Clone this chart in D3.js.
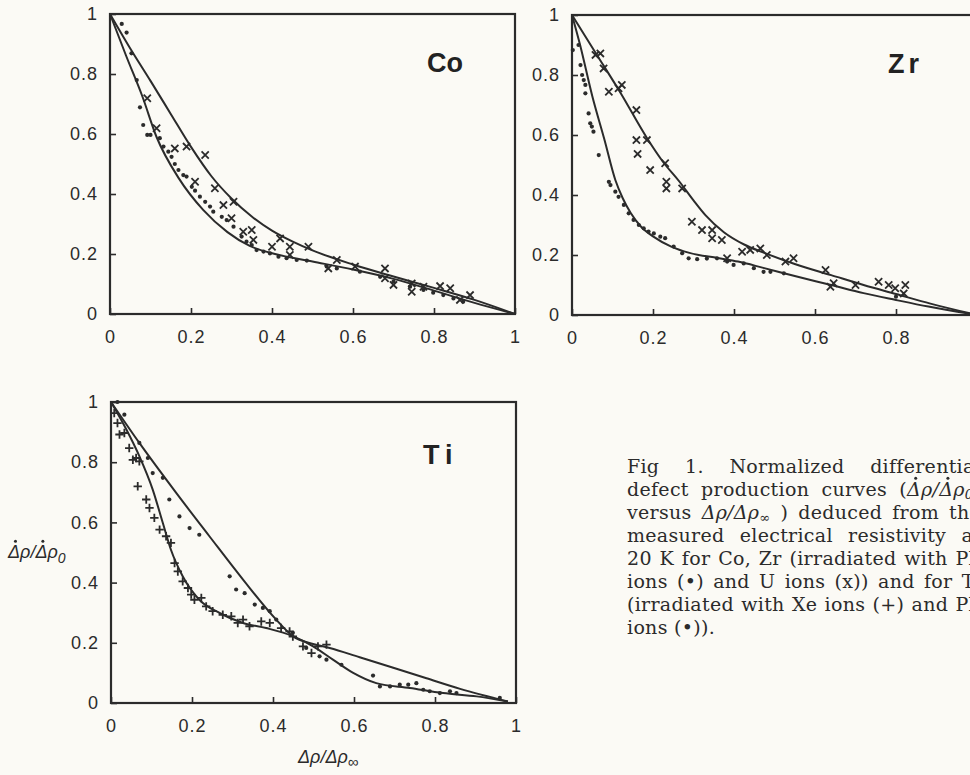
<!DOCTYPE html>
<html>
<head>
<meta charset="UTF-8">
<title>Normalized differential defect production curves</title>
<script src="https://cdn.jsdelivr.net/npm/d3@7"></script>
<style>
	body { margin: 0; background: #fbfaf5; overflow: hidden; }
	svg { display: block; }
	.tick text {
		font-family: "Liberation Sans", Arial, sans-serif;
		font-size: 18px;
		letter-spacing: 1px;
		fill: #2b2b2b;
	}
	.tick line { stroke: #2b2b2b; stroke-width: 1.6; }
	.frame { fill: none; stroke: #2b2b2b; stroke-width: 2.2; }
	.curve { fill: none; stroke: #2b2b2b; stroke-width: 2; }
	.dot { fill: #2b2b2b; }
	.mark { fill: none; stroke: #2b2b2b; stroke-width: 1.8; }
	.ptitle {
		font-family: "Liberation Sans", Arial, sans-serif;
		font-weight: bold;
		font-size: 27px;
		fill: #222;
	}
	.alabel {
		font-family: "Liberation Sans", Arial, sans-serif;
		font-style: italic;
		font-size: 18px;
		fill: #2b2b2b;
	}
	.caption {
		font-family: "DejaVu Serif", serif;
		font-size: 19px;
		letter-spacing: 0.3px;
		fill: #2b2b2b;
	}
</style>
</head>
<body>
<svg id="chart" width="970" height="775"></svg>
<script>

	// axis ticks
	let tickValues = [0, 0.2, 0.4, 0.6, 0.8, 1];
	let tickLabels = ["0", "0.2", "0.4", "0.6", "0.8", "1"];

	// Co : fitted curves, Pb ions (dots), U ions (x)
	let coUpper = [[0,1],[0.05,0.885],[0.1,0.777],[0.15,0.667],[0.2,0.557],[0.25,0.46],[0.3,0.385],[0.35,0.325],[0.4,0.278],[0.45,0.242],[0.5,0.212],[0.6,0.165],[0.7,0.125],[0.8,0.087],[0.9,0.047],[1,0]];
	let coLower = [[0,1],[0.04,0.86],[0.08,0.725],[0.115,0.59],[0.17,0.452],[0.23,0.347],[0.29,0.273],[0.345,0.227],[0.41,0.199],[0.5,0.175],[0.6,0.148],[0.7,0.117],[0.8,0.078],[0.9,0.037],[1,0]];
	let coDots = [[0.029,0.967],[0.041,0.938],[0.053,0.869],[0.066,0.78],[0.074,0.689],[0.082,0.63],[0.092,0.597],[0.1,0.597],[0.123,0.586],[0.132,0.558],[0.144,0.541],[0.152,0.524],[0.16,0.5],[0.169,0.48],[0.181,0.463],[0.189,0.458],[0.202,0.424],[0.21,0.411],[0.222,0.391],[0.235,0.374],[0.247,0.358],[0.255,0.341],[0.276,0.324],[0.288,0.313],[0.305,0.291],[0.325,0.258],[0.337,0.241],[0.35,0.23],[0.362,0.213],[0.379,0.208],[0.395,0.202],[0.416,0.191],[0.436,0.186],[0.461,0.18],[0.486,0.178],[0.535,0.158],[0.56,0.152],[0.617,0.141],[0.667,0.124],[0.7,0.108],[0.741,0.091],[0.774,0.08],[0.798,0.071],[0.823,0.063],[0.848,0.052],[0.872,0.041]];
	let coCross = [[0.092,0.719],[0.115,0.619],[0.16,0.552],[0.189,0.558],[0.235,0.53],[0.21,0.441],[0.259,0.419],[0.28,0.363],[0.305,0.374],[0.3,0.319],[0.329,0.274],[0.35,0.28],[0.354,0.247],[0.42,0.252],[0.444,0.224],[0.444,0.197],[0.4,0.224],[0.49,0.224],[0.539,0.152],[0.56,0.18],[0.605,0.158],[0.679,0.152],[0.679,0.119],[0.7,0.097],[0.745,0.102],[0.745,0.074],[0.774,0.091],[0.815,0.093],[0.84,0.086],[0.864,0.047],[0.889,0.063]];

	// Zr : fitted curves, Pb ions (dots), U ions (x)
	let zrUpper = [[0,1],[0.06,0.87],[0.12,0.74],[0.185,0.59],[0.225,0.51],[0.265,0.445],[0.3,0.382],[0.33,0.332],[0.375,0.276],[0.425,0.235],[0.475,0.207],[0.55,0.17],[0.64,0.133],[0.72,0.1],[0.8,0.07],[0.885,0.038],[1,0]];
	let zrLower = [[0,1],[0.02,0.9],[0.05,0.73],[0.08,0.585],[0.107,0.45],[0.125,0.39],[0.145,0.34],[0.17,0.295],[0.2,0.262],[0.245,0.228],[0.29,0.207],[0.36,0.19],[0.41,0.178],[0.47,0.158],[0.55,0.13],[0.64,0.1],[0.72,0.073],[0.8,0.05],[0.88,0.028],[1,0]];
	let zrDots = [[0.002,0.883],[0.016,0.9],[0.021,0.833],[0.025,0.8],[0.029,0.783],[0.033,0.767],[0.033,0.739],[0.041,0.672],[0.045,0.639],[0.049,0.628],[0.053,0.611],[0.066,0.533],[0.091,0.444],[0.095,0.433],[0.107,0.411],[0.115,0.394],[0.128,0.367],[0.14,0.339],[0.152,0.317],[0.165,0.3],[0.177,0.289],[0.189,0.278],[0.202,0.272],[0.218,0.261],[0.23,0.256],[0.251,0.228],[0.272,0.206],[0.288,0.189],[0.309,0.186],[0.333,0.188],[0.358,0.189],[0.383,0.178],[0.399,0.167],[0.424,0.172],[0.449,0.156],[0.473,0.144],[0.49,0.144],[0.523,0.139],[0.8,0.061]];
	let zrCross = [[0.058,0.867],[0.07,0.872],[0.078,0.822],[0.091,0.744],[0.115,0.756],[0.123,0.767],[0.159,0.683],[0.159,0.583],[0.162,0.537],[0.185,0.583],[0.193,0.483],[0.23,0.506],[0.233,0.444],[0.233,0.422],[0.272,0.422],[0.296,0.311],[0.321,0.283],[0.346,0.283],[0.346,0.256],[0.37,0.25],[0.383,0.189],[0.42,0.211],[0.44,0.217],[0.465,0.222],[0.481,0.2],[0.527,0.178],[0.547,0.189],[0.626,0.15],[0.638,0.094],[0.646,0.106],[0.7,0.1],[0.757,0.111],[0.782,0.1],[0.798,0.089],[0.823,0.1],[0.819,0.072]];

	// Ti : fitted curves, Pb ions (dots), Xe ions (+)
	let tiUpper = [[0,1],[0.07,0.864],[0.161,0.698],[0.243,0.554],[0.326,0.41],[0.408,0.277],[0.449,0.222],[0.499,0.196],[0.54,0.183],[0.614,0.152],[0.697,0.117],[0.779,0.082],[0.862,0.047],[0.98,0.005]];
	let tiLower = [[0,1],[0.037,0.911],[0.07,0.82],[0.103,0.709],[0.128,0.598],[0.148,0.509],[0.177,0.421],[0.218,0.343],[0.268,0.299],[0.326,0.266],[0.383,0.249],[0.449,0.222],[0.499,0.188],[0.548,0.144],[0.598,0.1],[0.655,0.066],[0.738,0.05],[0.82,0.033],[0.903,0.022],[0.98,0.005]];
	let tiDots = [[0.016,1.0],[0.033,0.958],[0.07,0.864],[0.091,0.814],[0.103,0.764],[0.128,0.748],[0.144,0.676],[0.169,0.62],[0.194,0.581],[0.218,0.559],[0.293,0.421],[0.309,0.377],[0.33,0.365],[0.355,0.327],[0.375,0.316],[0.392,0.305],[0.408,0.277],[0.449,0.233],[0.482,0.183],[0.515,0.155],[0.532,0.144],[0.569,0.127],[0.647,0.091],[0.664,0.055],[0.689,0.055],[0.713,0.061],[0.734,0.061],[0.754,0.066],[0.771,0.044],[0.787,0.039],[0.812,0.033],[0.837,0.039],[0.853,0.033],[0.96,0.017]];
	let tiPlus = [[0.008,0.963],[0.016,0.93],[0.021,0.892],[0.033,0.897],[0.045,0.847],[0.062,0.814],[0.054,0.808],[0.07,0.803],[0.066,0.72],[0.087,0.676],[0.095,0.648],[0.107,0.615],[0.12,0.576],[0.136,0.554],[0.148,0.532],[0.157,0.465],[0.165,0.437],[0.177,0.404],[0.19,0.382],[0.198,0.36],[0.206,0.343],[0.223,0.349],[0.235,0.321],[0.251,0.305],[0.276,0.293],[0.297,0.288],[0.313,0.266],[0.326,0.277],[0.342,0.255],[0.371,0.271],[0.392,0.266],[0.42,0.249],[0.441,0.238],[0.449,0.221],[0.474,0.188],[0.495,0.166],[0.511,0.188],[0.532,0.194]];

	// caption lines (last one is not justified)
	let captionLines = [
		[["Fig 1. Normalized differential"]],
		[["defect production curves ("], ["Δρ/Δρ", "i"], ["0", "sub"], [")"]],
		[["versus "], ["Δρ/Δρ", "i"], ["∞", "sub"], [" ) deduced from the"]],
		[["measured electrical resistivity at"]],
		[["20 K for Co, Zr (irradiated with Pb"]],
		[["ions (•) and U ions (x)) and for Ti"]],
		[["(irradiated with Xe ions (+) and Pb"]],
		[["ions (•))."]]
	];

	let svg = d3.select("#chart");

	let panels = [
		{name: "Co", left: 110, right: 515, top: 14, bottom: 314, upper: coUpper, lower: coLower, dots: coDots, marks: coCross, mark: "x", tx: 427, ty: 72, ls: 0},
		{name: "Zr", left: 572, right: 977, top: 15, bottom: 315, upper: zrUpper, lower: zrLower, dots: zrDots, marks: zrCross, mark: "x", tx: 888, ty: 73, ls: 4},
		{name: "Ti", left: 111, right: 516, top: 402, bottom: 703, upper: tiUpper, lower: tiLower, dots: tiDots, marks: tiPlus, mark: "+", tx: 423, ty: 464, ls: 6}
	];

	let crossPath = "M-3.6,-3.6L3.6,3.6M-3.6,3.6L3.6,-3.6";
	let plusPath = "M-4.2,0H4.2M0,-4.2V4.2";

	panels.forEach(p => {
		let x = d3.scaleLinear().domain([0, 1]).range([p.left, p.right]);
		let y = d3.scaleLinear().domain([0, 1]).range([p.bottom, p.top]);
		let g = svg.append("g").attr("id", "panel" + p.name);

		g.append("g")
			.attr("transform", "translate(0," + p.bottom + ")")
			.call(d3.axisBottom(x)
				.tickValues(tickValues)
				.tickFormat((d, i) => tickLabels[i])
				.tickSizeInner(-6).tickSizeOuter(0).tickPadding(16))
			.call(a => a.select(".domain").remove());

		g.append("g")
			.attr("transform", "translate(" + p.left + ",0)")
			.call(d3.axisLeft(y)
				.tickValues(tickValues)
				.tickFormat((d, i) => tickLabels[i])
				.tickSizeInner(-6).tickSizeOuter(0).tickPadding(12))
			.call(a => a.select(".domain").remove());

		g.append("rect")
			.attr("class", "frame")
			.attr("x", p.left).attr("y", p.top)
			.attr("width", p.right - p.left).attr("height", p.bottom - p.top);

		let line = d3.line()
			.x(d => x(d[0]))
			.y(d => y(d[1]))
			.curve(d3.curveMonotoneX);

		g.selectAll("path.curve")
			.data([p.upper, p.lower])
			.enter()
			.append("path")
			.attr("class", "curve")
			.attr("d", line);

		g.selectAll("circle.dot")
			.data(p.dots)
			.enter()
			.append("circle")
			.attr("class", "dot")
			.attr("cx", d => x(d[0]))
			.attr("cy", d => y(d[1]))
			.attr("r", 2.1);

		g.selectAll("path.mark")
			.data(p.marks)
			.enter()
			.append("path")
			.attr("class", "mark")
			.attr("d", p.mark == "x" ? crossPath : plusPath)
			.attr("transform", d => "translate(" + x(d[0]) + "," + y(d[1]) + ")");

		g.append("text")
			.attr("class", "ptitle")
			.attr("x", p.tx).attr("y", p.ty)
			.style("letter-spacing", p.ls + "px")
			.text(p.name);
	});

	// dot above a character of a text node
	function dotOver(textNode, index, baseline, fs) {
		let box = textNode.getExtentOfChar(index);
		svg.append("circle")
			.attr("cx", box.x + box.width * 0.62)
			.attr("cy", baseline - fs * 0.93)
			.attr("r", 1.5)
			.attr("fill", "#2b2b2b");
	}

	// axis labels of the Ti panel
	let ylab = svg.append("text").attr("class", "alabel").attr("x", 8).attr("y", 558);
	ylab.append("tspan").text("Δρ/Δρ");
	ylab.append("tspan").attr("dy", 5).style("font-size", "14px").text("0");
	dotOver(ylab.node(), 0, 558, 18);
	dotOver(ylab.node(), 3, 558, 18);

	let xlab = svg.append("text").attr("class", "alabel").attr("x", 298).attr("y", 763);
	xlab.append("tspan").text("Δρ/Δρ");
	xlab.append("tspan").attr("dy", 4).style("font-size", "15px").text("∞");

	// caption, justified to a right edge past the picture border
	let capX = 627, capRight = 981, capTop = 473, capStep = 23;
	captionLines.forEach((parts, li) => {
		let base = capTop + li * capStep;
		let t = svg.append("text").attr("class", "caption").attr("x", capX).attr("y", base);
		let shifted = 0;
		parts.forEach(part => {
			let s = t.append("tspan").text(part[0]);
			if (part[1] == "i") s.style("font-style", "italic");
			if (part[1] == "sub") { s.attr("dy", 2.5).style("font-size", "13px").style("font-style", "italic"); shifted = 2.5; }
			else if (shifted) { s.attr("dy", -shifted); shifted = 0; }
		});
		if (li < captionLines.length - 1) {
			let spaces = t.text().split(" ").length - 1;
			let w = t.node().getComputedTextLength();
			t.style("word-spacing", Math.max(0, (capRight - capX - w) / spaces) + "px");
		}
		if (li == 1) {
			let str = t.text();
			let i0 = str.indexOf("Δ");
			let i1 = str.indexOf("Δ", i0 + 1);
			dotOver(t.node(), i0, base, 19);
			dotOver(t.node(), i1, base, 19);
		}
	});

</script>
</body>
</html>
